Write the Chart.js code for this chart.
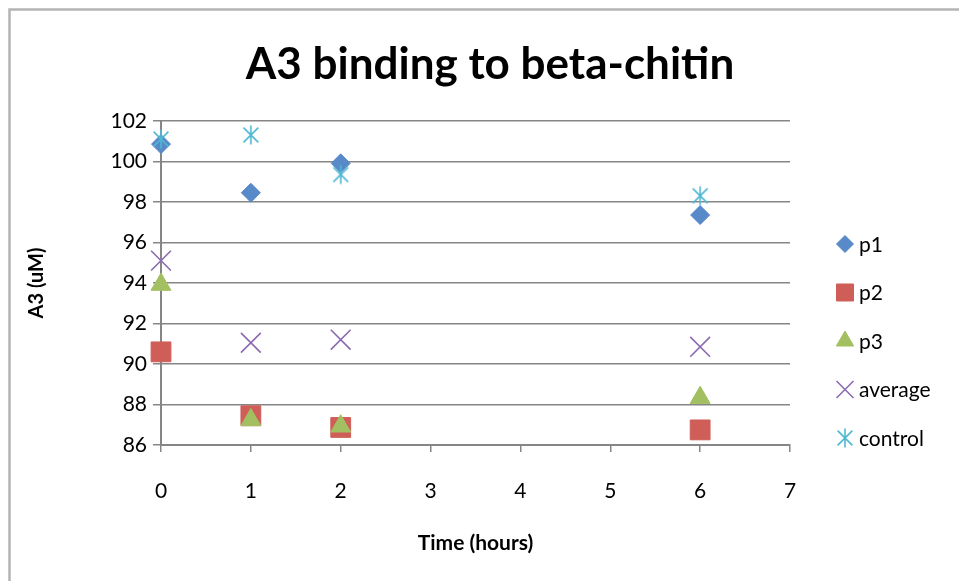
<!DOCTYPE html>
<html>
<head>
<meta charset="utf-8">
<title>A3 binding to beta-chitin</title>
<script src="https://cdn.jsdelivr.net/npm/chart.js@4/dist/chart.umd.min.js"></script>
<style>
  html, body { margin: 0; padding: 0; background: #fff; }
  canvas { display: block; }
</style>
</head>
<body>
<canvas id="bindingChart" width="959" height="581"></canvas>
<script>
// data
const hours = [0, 1, 2, 6];
const p1 = [100.85, 98.45, 99.9, 97.35];
const p2 = [90.6, 87.45, 86.87, 86.75];
const p3 = [93.92, 87.24, 86.93, 88.34];
const average = [95.1, 91.05, 91.2, 90.85];
const control = [101.1, 101.3, 99.35, 98.3];
const xTicks = [0, 1, 2, 3, 4, 5, 6, 7];
const yTicks = [86, 88, 90, 92, 94, 96, 98, 100, 102];
const seriesNames = ['p1', 'p2', 'p3', 'average', 'control'];

const FONT = 'Lato, "Open Sans", sans-serif';
const axisGray = '#868686';

// Excel style asterisk marker (x plus a vertical bar)
function makeAsterisk(size, color) {
    const c = document.createElement('canvas');
    c.width = size;
    c.height = size;
    const g = c.getContext('2d');
    const m = size / 2;
    const r = size / 2 - 1.5;
    const d = r * 0.78;
    g.strokeStyle = color;
    g.lineWidth = 1.6;
    g.beginPath();
    g.moveTo(m, m - r); g.lineTo(m, m + r);
    g.moveTo(m - d, m - d); g.lineTo(m + d, m + d);
    g.moveTo(m - d, m + d); g.lineTo(m + d, m - d);
    g.stroke();
    return c;
}

function toPoints(values) {
    return hours.map((h, i) => ({ x: h, y: values[i] }));
}

const colors = ['#5889c8', '#cf5e58', '#a2c061', '#8b6bb0', '#4fb8d3'];
const asterisk = makeAsterisk(22, colors[4]);

const styles = [
    { pointStyle: 'rectRot', pointRadius: 9.5, borderWidth: 1 },
    { pointStyle: 'rect', pointRadius: 14, borderWidth: 1 },
    { pointStyle: 'triangle', pointRadius: 11.5, borderWidth: 1 },
    { pointStyle: 'crossRot', pointRadius: 14, borderWidth: 1.6 },
    { pointStyle: asterisk, pointRadius: 11, borderWidth: 1 }
];
const legendRadius = [8.5, 12, 10, 12, 11];

const seriesValues = [p1, p2, p3, average, control];
const datasets = seriesValues.map((vals, i) => ({
    label: seriesNames[i],
    data: toPoints(vals),
    pointStyle: styles[i].pointStyle,
    pointRadius: styles[i].pointRadius,
    pointHoverRadius: styles[i].pointRadius,
    pointBorderWidth: styles[i].borderWidth,
    backgroundColor: colors[i],
    borderColor: colors[i],
    showLine: false,
    clip: false,
    order: 5 - i
}));

// grey frame round the chart, like the exported picture
const framePlugin = {
    id: 'frame',
    beforeDraw(chart) {
        const ctx = chart.ctx;
        ctx.save();
        ctx.fillStyle = '#fff';
        ctx.fillRect(0, 0, chart.width, chart.height);
        ctx.strokeStyle = '#b4b4b4';
        ctx.lineWidth = 2.5;
        ctx.strokeRect(9.5, 9.5, chart.width + 20, chart.height + 20);
        ctx.restore();
    }
};

// legend drawn by hand so the markers sit where Excel put them
const sideLegend = {
    id: 'sideLegend',
    afterDraw(chart) {
        const ctx = chart.ctx;
        const markX = 845;
        const textX = 859;
        const top = 244;
        const step = 48.5;
        ctx.save();
        chart.data.datasets.forEach((ds, i) => {
            const y = top + i * step;
            ctx.fillStyle = ds.backgroundColor;
            ctx.strokeStyle = ds.borderColor;
            ctx.lineWidth = ds.pointBorderWidth;
            Chart.helpers.drawPoint(ctx, {
                pointStyle: ds.pointStyle,
                radius: legendRadius[i],
                rotation: 0,
                borderWidth: ds.pointBorderWidth
            }, markX, y);
            ctx.fillStyle = '#000';
            ctx.font = '21px ' + FONT;
            ctx.textAlign = 'left';
            ctx.textBaseline = 'middle';
            ctx.fillText(ds.label, textX, y + 1);
        });
        ctx.restore();
    }
};

const ctx = document.getElementById('bindingChart').getContext('2d');
const bindingChart = new Chart(ctx, {
    type: 'scatter',
    data: { datasets: datasets },
    options: {
        responsive: false,
        animation: false,
        devicePixelRatio: 1,
        layout: { padding: { left: 21, right: 0, top: 0, bottom: 19 } },
        plugins: {
            legend: { display: false },
            tooltip: { enabled: false },
            title: {
                display: true,
                text: 'A3 binding to beta-chitin',
                color: '#000',
                font: { family: FONT, size: 44, weight: 'bold' },
                padding: { top: 38, bottom: 30 }
            }
        },
        scales: {
            x: {
                type: 'linear',
                min: 0,
                max: 7,
                afterBuildTicks: scale => { scale.ticks = xTicks.map(v => ({ value: v })); },
                ticks: {
                    color: '#000',
                    font: { family: FONT, size: 21 },
                    padding: 26.5,
                    maxRotation: 0
                },
                grid: {
                    drawOnChartArea: false,
                    drawTicks: true,
                    tickLength: 7,
                    color: axisGray,
                    lineWidth: 1.5
                },
                border: { color: axisGray, width: 2 },
                title: {
                    display: true,
                    text: 'Time (hours)',
                    color: '#000',
                    font: { family: FONT, size: 21, weight: 'bold' },
                    padding: { top: 0.5, bottom: 6 }
                }
            },
            y: {
                min: 86,
                max: 102,
                afterBuildTicks: scale => { scale.ticks = yTicks.map(v => ({ value: v })); },
                afterFit: scale => { scale.width = 140; },
                ticks: {
                    color: '#000',
                    font: { family: FONT, size: 21 },
                    padding: 6
                },
                grid: {
                    color: axisGray,
                    lineWidth: 1.5,
                    tickLength: 8
                },
                border: { color: axisGray, width: 2 },
                title: {
                    display: true,
                    text: 'A3 (uM)',
                    color: '#000',
                    font: { family: FONT, size: 20, weight: 'bold' },
                    padding: { top: 4, bottom: 18 }
                }
            },
            // empty scale that keeps room for the legend on the right
            legendSpace: {
                type: 'linear',
                position: 'right',
                afterFit: scale => { scale.width = 169; },
                ticks: { display: false },
                grid: { display: false },
                border: { display: false }
            }
        }
    },
    plugins: [framePlugin, sideLegend]
});
</script>
</body>
</html>
